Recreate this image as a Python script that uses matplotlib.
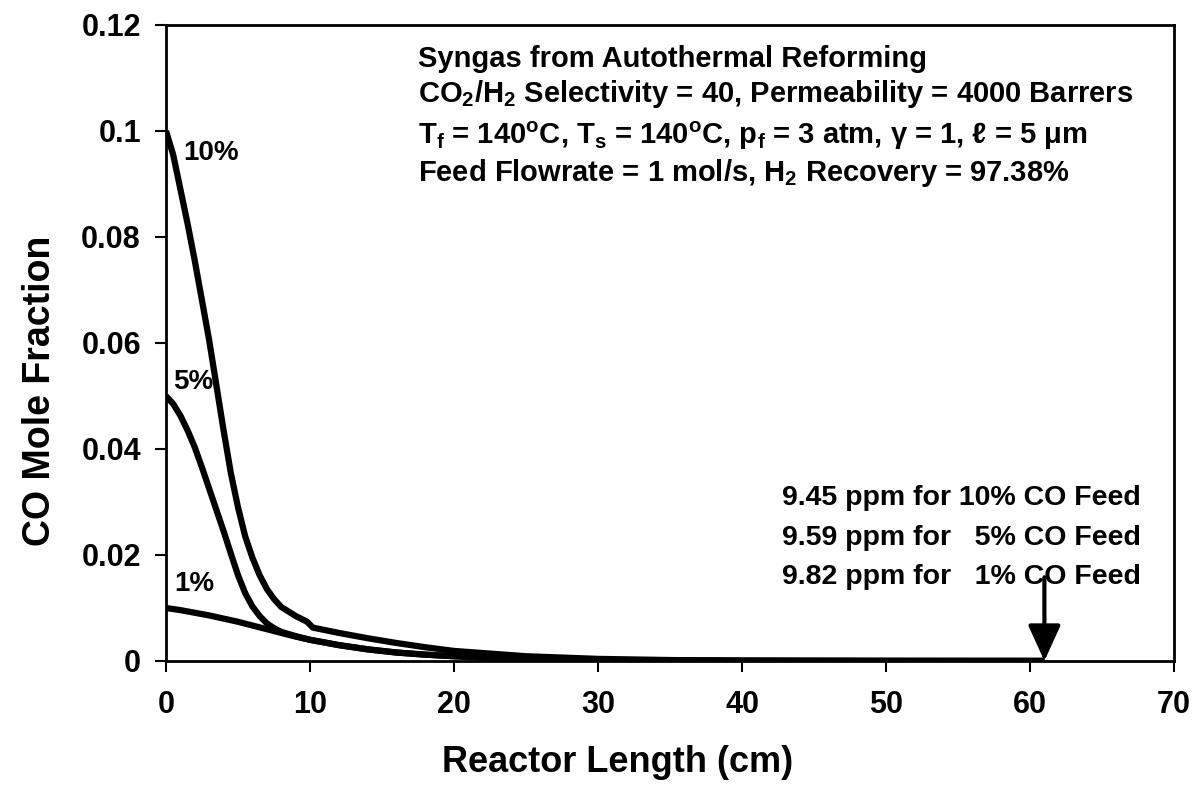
import matplotlib
matplotlib.use('Agg')
import matplotlib.pyplot as plt

plt.rcParams['font.family'] = ['Liberation Sans', 'DejaVu Sans']
plt.rcParams['font.weight'] = 'bold'
plt.rcParams['mathtext.default'] = 'regular'

# CO mole fraction along the reactor
x_10 = [0, 0.5, 1, 1.5, 2, 2.5, 3, 3.5, 4, 4.5, 5, 5.5, 6, 6.5, 7, 7.5, 8, 9, 9.8, 10.2,
        12, 14, 16, 18, 20, 25, 30, 35, 40, 50, 61]
y_10 = [0.1, 0.0955, 0.089, 0.0825, 0.0755, 0.068, 0.0605, 0.052, 0.0435, 0.0355, 0.029,
        0.0235, 0.0195, 0.0162, 0.0136, 0.0117, 0.0102, 0.0085, 0.0074, 0.0063,
        0.0053, 0.0043, 0.0034, 0.0026, 0.0019, 0.0009, 0.0004, 0.00018, 0.00008, 0.00003, 0.00000945]

x_5 = [0, 0.5, 1, 1.5, 2, 2.5, 3, 3.5, 4, 4.5, 5, 5.5, 6, 6.5, 7, 7.5, 8, 9, 10,
       12, 14, 16, 18, 20, 25, 30, 40, 50, 61]
y_5 = [0.05, 0.0485, 0.0463, 0.0435, 0.0403, 0.0365, 0.0325, 0.0285, 0.0245, 0.0203,
       0.0162, 0.0128, 0.0103, 0.0085, 0.0071, 0.0062, 0.0055, 0.0047, 0.0040,
       0.003, 0.0022, 0.0016, 0.0012, 0.0009, 0.0004, 0.00018, 0.00004, 0.000015, 0.0000096]

x_1 = [0, 1, 2, 3, 4, 5, 6, 7, 8, 9, 10, 12, 14, 16, 18, 20, 25, 30, 40, 50, 61]
y_1 = [0.01, 0.0096, 0.0091, 0.0086, 0.008, 0.0074, 0.0067, 0.006, 0.0053, 0.0046, 0.004,
       0.003, 0.0022, 0.0016, 0.0012, 0.0009, 0.0004, 0.00018, 0.00004, 0.000015, 0.0000098]

curve_labels = ['10%', '5%', '1%']
label_pos = [(1.2, 0.0958), (0.5, 0.0526), (0.6, 0.0145)]

x_ticks = [0, 10, 20, 30, 40, 50, 60, 70]
y_ticks = [0, 0.02, 0.04, 0.06, 0.08, 0.1, 0.12]
y_tick_labels = ['0', '0.02', '0.04', '0.06', '0.08', '0.1', '0.12']

info_lines = ['Syngas from Autothermal Reforming',
              'CO$_2$/H$_2$ Selectivity = 40, Permeability = 4000 Barrers',
              'T$_f$ = 140$^o$C, T$_s$ = 140$^o$C, p$_f$ = 3 atm, \u03b3 = 1, \u2113 = 5 \u03bcm',
              'Feed Flowrate = 1 mol/s, H$_2$ Recovery = 97.38%']
ppm_lines = ['9.45 ppm for 10% CO Feed',
             '9.59 ppm for   5% CO Feed',
             '9.82 ppm for   1% CO Feed']

fig = plt.figure(figsize=(11.94, 8.01), dpi=100)
ax = fig.add_axes([166 / 1194, 1 - 661 / 801, (1174 - 166) / 1194, (661 - 25) / 801])

for xs, ys in [(x_10, y_10), (x_5, y_5), (x_1, y_1)]:
    ax.plot(xs, ys, color='black', linewidth=4.5, solid_capstyle='butt')

for lbl, (lx, ly) in zip(curve_labels, label_pos):
    ax.text(lx, ly, lbl, fontsize=20, fontweight='bold', va='center', ha='left')

# info block in the top right
info_y = [0.1135, 0.1070, 0.0990, 0.0920]
for line, iy in zip(info_lines, info_y):
    ax.text(17.5, iy, line, fontsize=21, fontweight='bold', va='center', ha='left')

ppm_y = [0.0308, 0.0233, 0.0158]
for line, py in zip(ppm_lines, ppm_y):
    ax.text(42.8, py, line, fontsize=20.5, fontweight='bold', va='center', ha='left')

# arrow pointing at the outlet
ax.annotate('', xy=(61, 0), xytext=(61, 0.0158),
            arrowprops=dict(arrowstyle='-|>,head_width=0.5,head_length=1.1', color='black', lw=3,
                            mutation_scale=20, shrinkA=0, shrinkB=0))

ax.set_xlim(0, 70)
ax.set_ylim(0, 0.12)
ax.set_xticks(x_ticks)
ax.set_yticks(y_ticks)
ax.set_yticklabels(y_tick_labels)
ax.tick_params(direction='out', length=8, width=1.5, labelsize=22, pad=10)
ax.tick_params(axis='x', pad=13)
for lab in ax.get_xticklabels() + ax.get_yticklabels():
    lab.set_fontweight('bold')
for s in ax.spines.values():
    s.set_linewidth(2)

fig.text(618 / 1194, 1 - 762 / 801, 'Reactor Length (cm)', fontsize=26, fontweight='bold',
         ha='center', va='center')
fig.text(40 / 1194, 1 - 391 / 801, 'CO Mole Fraction', fontsize=27, fontweight='bold',
         ha='center', va='center', rotation=90)

plt.savefig('out.png', dpi=100)
